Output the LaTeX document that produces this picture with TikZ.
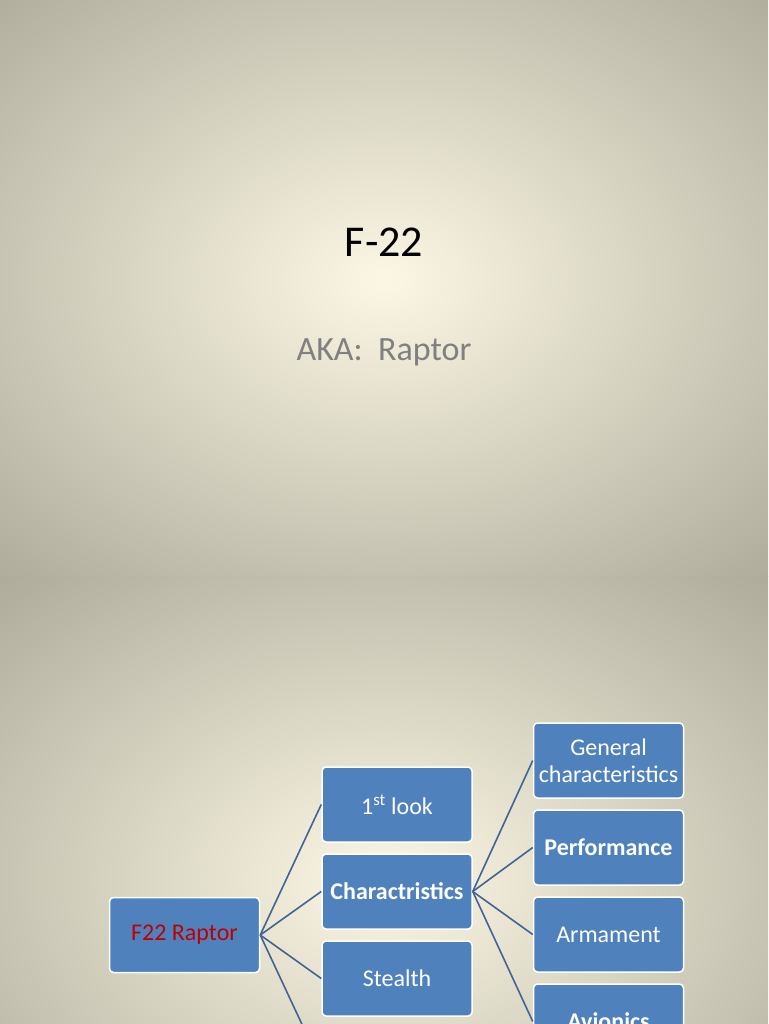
\documentclass[tikz,border=0pt]{standalone}
\usepackage{fontspec}
\setmainfont{Carlito}
\definecolor{bgin}{RGB}{252,247,228}
\definecolor{bgout}{RGB}{135,133,118}
\definecolor{boxblue}{RGB}{79,129,189}
\definecolor{lineblue}{RGB}{64,100,150}
\definecolor{raptorred}{RGB}{192,0,0}
\tikzset{
  sbox/.style={draw=white, line width=1.5pt, fill=boxblue, rounded corners=4pt,
    minimum width=150pt, minimum height=75pt, text=white, font=\fontsize{24}{27}\selectfont, align=center, inner sep=1pt},
  bsbox/.style={sbox, font=\fontsize{24}{27}\selectfont\bfseries},
  conn/.style={draw=lineblue, line width=1.6pt}
}
\begin{document}
\begin{tikzpicture}[x=1pt,y=1pt]
\useasboundingbox (0,0) rectangle (768,-1024);
\begin{scope}
\clip (0,0) rectangle (768,-576);
\shade[inner color=bgin, outer color=bgout] (384,-280) ellipse (860 and 620);
\end{scope}
\begin{scope}
\clip (0,-576) rectangle (768,-1024);
\shade[inner color=bgin, outer color=bgout] (384,-880) ellipse (860 and 620);
\end{scope}
\node[font=\fontsize{44}{50}\selectfont] (title) at (384,-242) {F-22};
\node[font=\fontsize{34}{38}\selectfont, text={rgb,255:red,128;green,128;blue,128}] (sub) at (384,-352) {AKA:\ \ Raptor};
\begin{scope}
\clip (0,-576) rectangle (768,-1024);
\node[sbox, text=raptorred] (f22) at (184.5,-935) {F22 Raptor};
\node[sbox] (look) at (397,-804.5) {1\textsuperscript{st} look};
\node[bsbox] (char) at (397,-891.5) {Charactristics};
\node[sbox] (stealth) at (397,-978.5) {Stealth};
\node[sbox] (fourth) at (397,-1065.5) {};
\node[sbox] (gen) at (608.5,-760.5) {General\\characteristics};
\node[bsbox] (perf) at (608.5,-847.5) {Performance};
\node[sbox] (arm) at (608.5,-934.5) {Armament};
\node[bsbox] (avi) at (608.5,-1021.5) {Avionics};
\foreach \t in {look,char,stealth,fourth} \draw[conn] (f22.east) -- (\t.west);
\foreach \t in {gen,perf,arm,avi} \draw[conn] (char.east) -- (\t.west);
\end{scope}
\end{tikzpicture}
\end{document}
